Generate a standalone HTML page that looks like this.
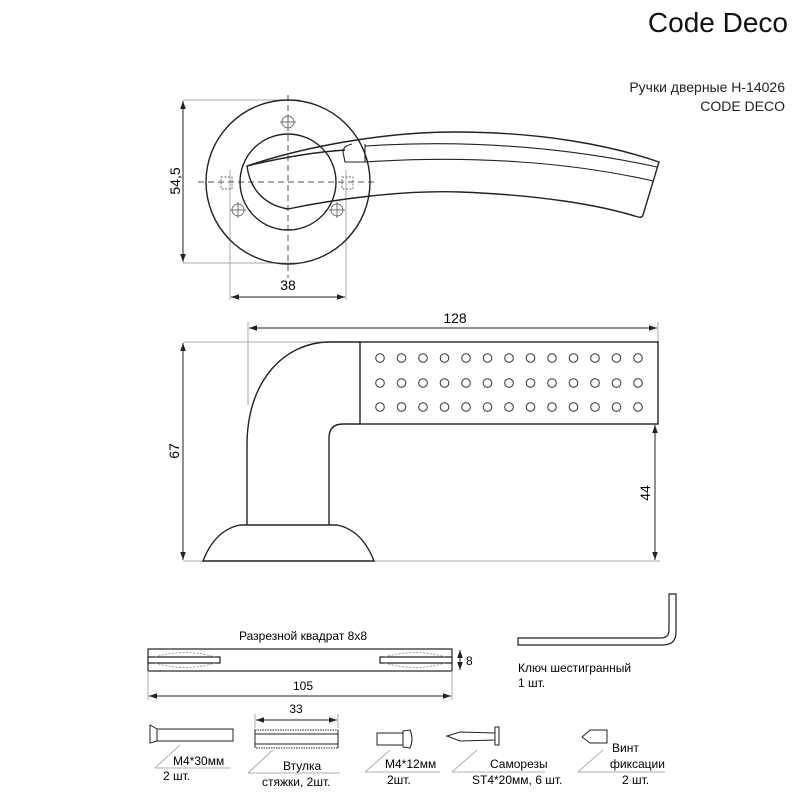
<!DOCTYPE html>
<html><head><meta charset="utf-8"><style>
html,body{margin:0;padding:0;background:#fff;}
svg{display:block;font-family:"Liberation Sans",Arial,sans-serif;}
</style></head><body>
<svg width="800" height="800" viewBox="0 0 800 800" xmlns="http://www.w3.org/2000/svg">
<defs>
<marker id="a" viewBox="0 0 10 10" refX="10" refY="5" markerWidth="8" markerHeight="8" orient="auto-start-reverse" markerUnits="userSpaceOnUse"><path d="M0,1.5 L10,5 L0,8.5 Z" fill="#222"/></marker>
<g id="row" fill="none" stroke="#333" stroke-width="1">
<circle cx="380" cy="0" r="4.3"/><circle cx="401.5" cy="0" r="4.3"/><circle cx="423" cy="0" r="4.3"/><circle cx="444.5" cy="0" r="4.3"/><circle cx="466" cy="0" r="4.3"/><circle cx="487.5" cy="0" r="4.3"/><circle cx="509" cy="0" r="4.3"/><circle cx="530.5" cy="0" r="4.3"/><circle cx="552" cy="0" r="4.3"/><circle cx="573.5" cy="0" r="4.3"/><circle cx="595" cy="0" r="4.3"/><circle cx="616.5" cy="0" r="4.3"/><circle cx="638" cy="0" r="4.3"/>
</g>
</defs>
<rect width="800" height="800" fill="#fff"/>
<!-- header -->
<text x="788" y="32" font-size="28" text-anchor="end" fill="#111">Code Deco</text>
<text x="785" y="92" font-size="14" text-anchor="end" fill="#222">Ручки дверные H-14026</text>
<text x="785" y="111" font-size="14" text-anchor="end" fill="#222">CODE DECO</text>

<!-- TOP VIEW -->
<g fill="none" stroke="#aaa" stroke-width="1">
<line x1="183" y1="100" x2="300" y2="100"/>
<line x1="183" y1="263" x2="300" y2="263"/>
<line x1="230" y1="170" x2="230" y2="300"/>
<line x1="346" y1="170" x2="346" y2="300"/>
</g>
<g stroke="#555" stroke-width="1" stroke-dasharray="6,4" fill="none">
<line x1="198" y1="182" x2="378" y2="182"/>
<line x1="288" y1="95" x2="288" y2="278"/>
</g>
<g fill="none" stroke="#222" stroke-width="1.4">
<circle cx="288" cy="182" r="82"/>
<circle cx="288" cy="182" r="48"/>
<path d="M247,166 C300,148 380,132 455,132 C540,132 610,145 659,162 L643,215 Q642,218 638,217 C600,205 540,195 460,192 C400,190 330,200 288,209 C265,205 250,190 247,166 Z"/>
<path d="M247,166 C280,158 315,152 345,150"/>
<path d="M365,146 C460,140 560,146 657,167" stroke-width="1.1"/>
<path d="M365,162 C470,155 570,162 653,181" stroke-width="1.1"/>
<path d="M352,144 Q343,146 343,152 L345,162 L365,162 L365,144" stroke-width="1.1"/>
</g>
<g fill="none" stroke="#666" stroke-width="0.9">
<rect x="221" y="177" width="11" height="12" stroke-dasharray="2,1.5"/>
<rect x="342" y="177" width="11" height="12" stroke-dasharray="2,1.5"/>
<circle cx="288" cy="122" r="6"/><line x1="280" y1="122" x2="296" y2="122"/><line x1="288" y1="114" x2="288" y2="130"/>
<circle cx="238" cy="210" r="6"/><line x1="230" y1="210" x2="246" y2="210"/><line x1="238" y1="202" x2="238" y2="218"/>
<circle cx="337" cy="210" r="6"/><line x1="329" y1="210" x2="345" y2="210"/><line x1="337" y1="202" x2="337" y2="218"/>
</g>
<line x1="183" y1="101" x2="183" y2="262" stroke="#222" marker-start="url(#a)" marker-end="url(#a)"/>
<text x="0" y="0" font-size="14" text-anchor="middle" transform="translate(180,181) rotate(-90)">54,5</text>
<line x1="231" y1="297" x2="345" y2="297" stroke="#222" marker-start="url(#a)" marker-end="url(#a)"/>
<text x="288" y="290" font-size="14" text-anchor="middle">38</text>

<!-- SIDE VIEW -->
<g stroke="#aaa" stroke-width="1">
<line x1="183" y1="342" x2="330" y2="342"/>
<line x1="183" y1="561" x2="203" y2="561"/>
<line x1="374" y1="561" x2="660" y2="561"/>
<line x1="248" y1="322" x2="248" y2="405"/>
<line x1="658" y1="322" x2="658" y2="342"/>
</g>
<g fill="none" stroke="#222" stroke-width="1.4">
<path d="M247,525 L247,445 C247,380 285,342 330,342 L360,342"/>
<path d="M329,525 L329,438 Q329,424 343,424 L360,424"/>
<rect x="360" y="342" width="298" height="82"/>
<path d="M203,561 Q215,530 240,525 L337,525 Q362,530 374,561 Z"/>
</g>
<use href="#row" transform="translate(0,358)"/>
<use href="#row" transform="translate(0,383)"/>
<use href="#row" transform="translate(0,407)"/>
<line x1="183" y1="343" x2="183" y2="560" stroke="#222" marker-start="url(#a)" marker-end="url(#a)"/>
<text font-size="14" text-anchor="middle" transform="translate(179,451) rotate(-90)">67</text>
<line x1="655" y1="425" x2="655" y2="560" stroke="#222" marker-start="url(#a)" marker-end="url(#a)"/>
<text font-size="14" text-anchor="middle" transform="translate(650,493) rotate(-90)">44</text>
<line x1="249" y1="328" x2="657" y2="328" stroke="#222" marker-start="url(#a)" marker-end="url(#a)"/>
<text x="455" y="323" font-size="14" text-anchor="middle">128</text>

<!-- SQUARE BAR -->
<text x="303" y="640" font-size="12" text-anchor="middle">Разрезной квадрат 8x8</text>
<g fill="none" stroke="#222" stroke-width="1.2">
<rect x="148" y="649" width="304" height="22"/>
<path d="M148,657 L220,657 L220,663 L148,663"/>
<path d="M452,657 L380,657 L380,663 L452,663"/>
</g>
<g fill="none" stroke="#888" stroke-width="0.8" stroke-dasharray="2,1.5">
<path d="M155,657 Q185,648 215,657 M155,663 Q185,672 215,663"/>
<path d="M385,657 Q415,648 445,657 M385,663 Q415,672 445,663"/>
</g>
<line x1="460" y1="650" x2="460" y2="670" stroke="#222" marker-start="url(#a)" marker-end="url(#a)"/>
<text x="466" y="665" font-size="12">8</text>
<g stroke="#aaa"><line x1="148" y1="671" x2="148" y2="700"/><line x1="452" y1="671" x2="452" y2="700"/></g>
<line x1="149" y1="696" x2="451" y2="696" stroke="#222" marker-start="url(#a)" marker-end="url(#a)"/>
<text x="303" y="690" font-size="12" text-anchor="middle">105</text>

<!-- HEX KEY -->
<path d="M518,638 L661,638 Q669,638 669,630 L669,594 L676,594 L676,632 Q676,645 663,645 L518,645 Z" fill="#fff" stroke="#222" stroke-width="1.2"/>
<text x="518" y="672" font-size="12">Ключ шестигранный</text>
<text x="518" y="687" font-size="12">1 шт.</text>

<!-- SCREWS -->
<g fill="none" stroke="#222" stroke-width="1">
<path d="M150,725 L157,729 L157,741 L150,743 Z"/>
<rect x="157" y="729" width="76" height="12"/>
<rect x="255" y="730" width="83" height="4" stroke-dasharray="1.5,1"/>
<rect x="255" y="744" width="83" height="4" stroke-dasharray="1.5,1"/>
<line x1="255" y1="734" x2="338" y2="734"/><line x1="255" y1="744" x2="338" y2="744"/>
<line x1="255" y1="730" x2="255" y2="748"/><line x1="338" y1="730" x2="338" y2="748"/>
<rect x="377" y="733" width="26" height="12"/>
<path d="M403,731 L410,730 Q414,739 410,748 L403,747 Z"/>
<path d="M447,736 L460,732 L495,733 L495,740 L460,741 Z"/>
<rect x="495" y="727" width="4" height="18"/>
<path d="M582,737 L590,730 L607,730 L607,743 L590,743 Z"/>
</g>
<line x1="256" y1="720" x2="337" y2="720" stroke="#222" marker-start="url(#a)" marker-end="url(#a)"/>
<g stroke="#aaa"><line x1="255" y1="714" x2="255" y2="728"/><line x1="338" y1="714" x2="338" y2="728"/></g>
<text x="296" y="713" font-size="12" text-anchor="middle">33</text>
<g stroke="#999" stroke-width="0.8" fill="none">
<path d="M155,768 L180,745 M155,768 L230,768"/>
<path d="M248,773 L273,750 M248,773 L340,773"/>
<path d="M365,772 L390,750 M365,772 L440,772"/>
<path d="M452,772 L477,750 M452,772 L545,772"/>
<path d="M578,772 L603,750 M578,772 L665,772"/>
</g>
<g font-size="12">
<text x="173" y="765">M4*30мм</text><text x="163" y="780">2 шт.</text>
<text x="283" y="770">Втулка</text><text x="262" y="786">стяжки, 2шт.</text>
<text x="385" y="768">M4*12мм</text><text x="387" y="784">2шт.</text>
<text x="490" y="768">Саморезы</text><text x="472" y="784">ST4*20мм, 6 шт.</text>
<text x="612" y="752">Винт</text><text x="610" y="768">фиксации</text><text x="622" y="784">2 шт.</text>
</g>
</svg>
</body></html>
